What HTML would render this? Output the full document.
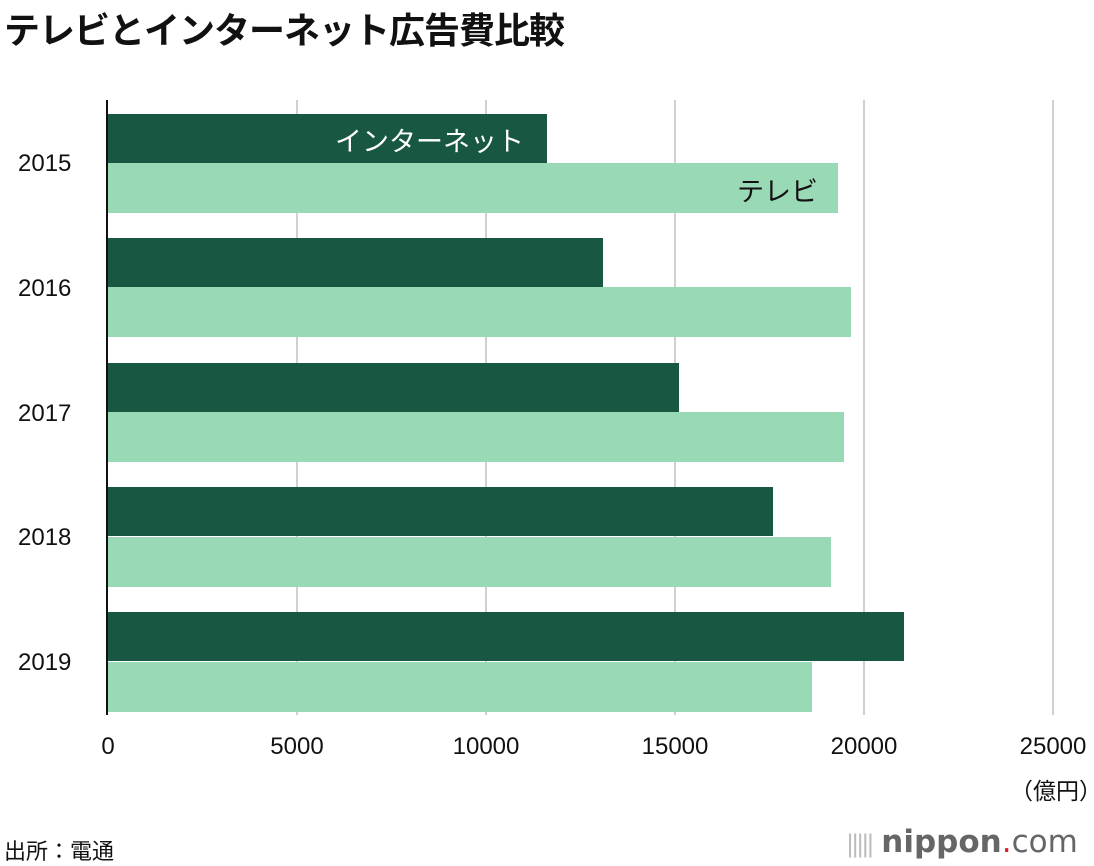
<!DOCTYPE html>
<html><head><meta charset="utf-8"><style>
body{margin:0;width:1094px;height:866px;background:#fff;font-family:"Liberation Sans","Noto Sans CJK JP",sans-serif;position:relative;overflow:hidden}
.a{position:absolute;white-space:nowrap}
.g{position:absolute;top:100px;height:615px;width:2px;background:#d0d0d0}
.i{position:absolute;left:108px;background:#185842;height:49px}
.t{position:absolute;left:108px;background:#9ad9b5;height:50px}
.y{position:absolute;left:18px;font-size:24px;color:#111;width:70px}
.x{position:absolute;top:733px;font-size:24px;color:#111;width:120px;text-align:center}
</style></head><body>
<div class="a" style="left:4px;top:2px;font-size:36px;font-weight:bold;color:#111;letter-spacing:-1px">テレビとインターネット広告費比較</div>
<div class="g" style="left:296px"></div><div class="g" style="left:485px"></div><div class="g" style="left:674px"></div><div class="g" style="left:863px"></div><div class="g" style="left:1052px"></div>
<div class="i" style="top:114px;width:439px"></div><div class="t" style="top:163px;width:730px"></div>
<div class="i" style="top:238px;width:495px"></div><div class="t" style="top:287px;width:743px"></div>
<div class="i" style="top:363px;width:571px"></div><div class="t" style="top:412px;width:736px"></div>
<div class="i" style="top:487px;width:665px"></div><div class="t" style="top:537px;width:723px"></div>
<div class="i" style="top:612px;width:796px"></div><div class="t" style="top:662px;width:704px"></div>
<div class="a" style="left:106px;top:100px;width:2px;height:615px;background:#111"></div>
<div class="a" style="left:335px;top:120px;font-size:27px;color:#fff">インターネット</div>
<div class="a" style="left:737px;top:170px;font-size:27px;color:#111">テレビ</div>
<div class="y" style="top:150px">2015</div><div class="y" style="top:275px">2016</div><div class="y" style="top:400px">2017</div><div class="y" style="top:524px">2018</div><div class="y" style="top:649px">2019</div>
<div class="x" style="left:48px">0</div><div class="x" style="left:237px">5000</div><div class="x" style="left:426px">10000</div><div class="x" style="left:615px">15000</div><div class="x" style="left:804px">20000</div><div class="x" style="left:993px">25000</div>
<div class="a" style="left:1010px;top:772px;font-size:23px;color:#111">（億円）</div>
<div class="a" style="left:4px;top:834px;font-size:22px;color:#111">出所：電通</div>
<div class="a" style="left:846px;top:822px;font-size:31px;line-height:40px;color:#666;font-family:'DejaVu Sans',sans-serif"><span style="color:#bbb;font-size:24px;letter-spacing:-3px">|||||</span> <b>nippon</b><span style="color:#e02020">.</span>com</div>
</body></html>
